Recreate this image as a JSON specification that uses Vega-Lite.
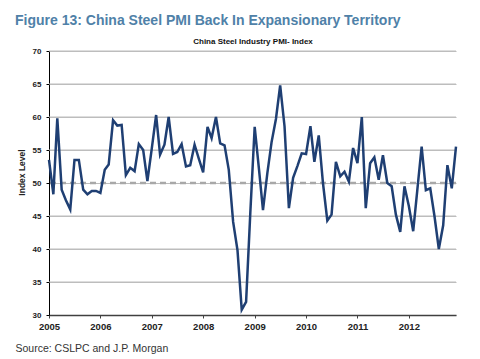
{
  "$schema": "https://vega.github.io/schema/vega-lite/v6.json",
  "width": 407,
  "height": 264,
  "autosize": "none",
  "padding": {"left": 49, "top": 51, "right": 24, "bottom": 44},
  "background": "white",
  "title": {
    "text": "Figure 13: China Steel PMI Back In Expansionary Territory",
    "anchor": "start",
    "frame": "group",
    "dx": -34,
    "dy": 12,
    "font": "Liberation Sans",
    "fontSize": 14,
    "fontWeight": "bold",
    "color": "#4f81a8",
    "baseline": "alphabetic",
    "offset": 10
  },
  "config": {
    "view": {"stroke": null},
    "axisLeft": {
      "values": [30, 35, 40, 45, 50, 55, 60, 65, 70],
      "grid": true, "gridColor": "#bdbdbd", "gridWidth": 1, "gridOpacity": 1,
      "domainColor": "#000000", "domainWidth": 1,
      "tickColor": "#000000", "tickSize": 3,
      "labelFont": "Liberation Sans", "labelFontSize": 8, "labelFontWeight": "bold", "labelColor": "#222222",
      "labelPadding": 5, "labelOverlap": false,
      "titleFont": "Liberation Sans", "titleFontSize": 8.5, "titleFontWeight": "bold", "titleColor": "#222222",
      "titleX": -28, "titleY": 121, "titleAngle": 270, "titleAlign": "center", "titleBaseline": "middle"
    },
    "axisBottom": {
      "format": "%Y",
      "tickCount": {"interval": "year", "step": 1},
      "grid": false,
      "domainColor": "#404040", "domainWidth": 1.5,
      "tickColor": "#404040", "tickSize": 3, "tickWidth": 1,
      "labelFont": "Liberation Sans", "labelFontSize": 9.5, "labelFontWeight": "bold", "labelColor": "#222222",
      "labelPadding": 3, "labelFlush": false, "labelOverlap": false,
      "titleFont": "Liberation Sans", "titleFontSize": 10.5, "titleFontWeight": "normal", "titleColor": "#333333",
      "titleAnchor": "start", "titleAlign": "left", "titleBaseline": "alphabetic",
      "titleX": -34, "titleY": 36
    },
    "axisTop": {
      "labels": false, "ticks": false, "domain": false, "grid": false,
      "titleFont": "Liberation Sans", "titleFontSize": 8, "titleFontWeight": "bold", "titleColor": "#111111",
      "titlePadding": 6
    }
  },
  "datasets": {
    "grid": [{"level": 35}, {"level": 40}, {"level": 45}, {"level": 55}, {"level": 60}, {"level": 65}, {"level": 70}],
    "ref": [{"level": 50}],
    "pmi": [
    {"date": "2005/01/01", "pmi": 53.5}, {"date": "2005/02/01", "pmi": 48.3}, {"date": "2005/03/01", "pmi": 59.8}, {"date": "2005/04/01", "pmi": 49.0},
    {"date": "2005/05/01", "pmi": 47.4}, {"date": "2005/06/01", "pmi": 46.0}, {"date": "2005/07/01", "pmi": 53.5}, {"date": "2005/08/01", "pmi": 53.5},
    {"date": "2005/09/01", "pmi": 49.0}, {"date": "2005/10/01", "pmi": 48.3}, {"date": "2005/11/01", "pmi": 48.8}, {"date": "2005/12/01", "pmi": 48.8},
    {"date": "2006/01/01", "pmi": 48.5}, {"date": "2006/02/01", "pmi": 52.0}, {"date": "2006/03/01", "pmi": 52.8}, {"date": "2006/04/01", "pmi": 59.5},
    {"date": "2006/05/01", "pmi": 58.7}, {"date": "2006/06/01", "pmi": 58.8}, {"date": "2006/07/01", "pmi": 51.2}, {"date": "2006/08/01", "pmi": 52.3},
    {"date": "2006/09/01", "pmi": 51.8}, {"date": "2006/10/01", "pmi": 55.9}, {"date": "2006/11/01", "pmi": 55.0}, {"date": "2006/12/01", "pmi": 50.3},
    {"date": "2007/01/01", "pmi": 55.2}, {"date": "2007/02/01", "pmi": 60.3}, {"date": "2007/03/01", "pmi": 54.3}, {"date": "2007/04/01", "pmi": 55.8},
    {"date": "2007/05/01", "pmi": 60.0}, {"date": "2007/06/01", "pmi": 54.4}, {"date": "2007/07/01", "pmi": 54.7}, {"date": "2007/08/01", "pmi": 55.9},
    {"date": "2007/09/01", "pmi": 52.5}, {"date": "2007/10/01", "pmi": 52.7}, {"date": "2007/11/01", "pmi": 55.8}, {"date": "2007/12/01", "pmi": 53.7},
    {"date": "2008/01/01", "pmi": 51.6}, {"date": "2008/02/01", "pmi": 58.5}, {"date": "2008/03/01", "pmi": 56.8}, {"date": "2008/04/01", "pmi": 60.0},
    {"date": "2008/05/01", "pmi": 56.0}, {"date": "2008/06/01", "pmi": 55.7}, {"date": "2008/07/01", "pmi": 52.0}, {"date": "2008/08/01", "pmi": 44.1},
    {"date": "2008/09/01", "pmi": 39.8}, {"date": "2008/10/01", "pmi": 30.8}, {"date": "2008/11/01", "pmi": 32.0}, {"date": "2008/12/01", "pmi": 45.5},
    {"date": "2009/01/01", "pmi": 58.5}, {"date": "2009/02/01", "pmi": 52.0}, {"date": "2009/03/01", "pmi": 45.9}, {"date": "2009/04/01", "pmi": 51.5},
    {"date": "2009/05/01", "pmi": 56.2}, {"date": "2009/06/01", "pmi": 59.7}, {"date": "2009/07/01", "pmi": 64.8}, {"date": "2009/08/01", "pmi": 58.6},
    {"date": "2009/09/01", "pmi": 46.2}, {"date": "2009/10/01", "pmi": 50.8}, {"date": "2009/11/01", "pmi": 52.6}, {"date": "2009/12/01", "pmi": 54.5},
    {"date": "2010/01/01", "pmi": 54.4}, {"date": "2010/02/01", "pmi": 58.6}, {"date": "2010/03/01", "pmi": 53.2}, {"date": "2010/04/01", "pmi": 57.2},
    {"date": "2010/05/01", "pmi": 50.0}, {"date": "2010/06/01", "pmi": 44.3}, {"date": "2010/07/01", "pmi": 45.2}, {"date": "2010/08/01", "pmi": 53.2},
    {"date": "2010/09/01", "pmi": 51.0}, {"date": "2010/10/01", "pmi": 51.7}, {"date": "2010/11/01", "pmi": 50.2}, {"date": "2010/12/01", "pmi": 55.3},
    {"date": "2011/01/01", "pmi": 53.0}, {"date": "2011/02/01", "pmi": 60.0}, {"date": "2011/03/01", "pmi": 46.2}, {"date": "2011/04/01", "pmi": 53.0},
    {"date": "2011/05/01", "pmi": 53.9}, {"date": "2011/06/01", "pmi": 50.5}, {"date": "2011/07/01", "pmi": 54.2}, {"date": "2011/08/01", "pmi": 50.0},
    {"date": "2011/09/01", "pmi": 49.5}, {"date": "2011/10/01", "pmi": 45.2}, {"date": "2011/11/01", "pmi": 42.6}, {"date": "2011/12/01", "pmi": 49.5},
    {"date": "2012/01/01", "pmi": 46.5}, {"date": "2012/02/01", "pmi": 42.7}, {"date": "2012/03/01", "pmi": 48.9}, {"date": "2012/04/01", "pmi": 55.5},
    {"date": "2012/05/01", "pmi": 48.9}, {"date": "2012/06/01", "pmi": 49.2}, {"date": "2012/07/01", "pmi": 45.0}, {"date": "2012/08/01", "pmi": 40.0},
    {"date": "2012/09/01", "pmi": 43.6}, {"date": "2012/10/01", "pmi": 52.7}, {"date": "2012/11/01", "pmi": 49.2}, {"date": "2012/12/01", "pmi": 55.5}
  ]},
  "layer": [
    {
      "data": {"name": "grid"},
      "mark": {"type": "rule", "color": "#bdbdbd", "strokeWidth": 1.2},
      "encoding": {
        "y": {"field": "level", "type": "quantitative", "scale": {"domain": [30, 70], "nice": false, "zero": false}, "axis": {"orient": "left", "title": "Index Level"}}
      }
    },
    {
      "data": {"name": "ref"},
      "mark": {"type": "rule", "color": "#a8a8a8", "strokeWidth": 2.5, "strokeDash": [6, 4]},
      "encoding": {
        "y": {"field": "level", "type": "quantitative", "axis": {"orient": "left", "title": "Index Level"}}
      }
    },
    {
      "data": {"name": "pmi"},
      "mark": {"type": "line", "color": "#1f3f73", "strokeWidth": 2.5, "interpolate": "linear"},
      "encoding": {
        "x": {
          "field": "date", "type": "temporal",
          "scale": {"domain": [{"year": 2005, "month": 1, "date": 1}, {"year": 2012, "month": 12, "date": 1}], "nice": false},
          "axis": {"orient": "bottom", "title": "Source: CSLPC and J.P. Morgan"}
        },
        "y": {
          "field": "pmi", "type": "quantitative",
          "axis": {"orient": "left", "title": "Index Level"}
        }
      }
    },
    {
      "data": {"name": "pmi"},
      "mark": {"type": "line", "opacity": 0},
      "encoding": {
        "x": {
          "field": "date", "type": "temporal",
          "axis": {"orient": "top", "title": "China Steel Industry PMI- Index"}
        },
        "y": {"field": "pmi", "type": "quantitative", "axis": {"orient": "left", "title": "Index Level"}}
      }
    }
  ],
  "resolve": {"axis": {"x": "independent"}}
}
